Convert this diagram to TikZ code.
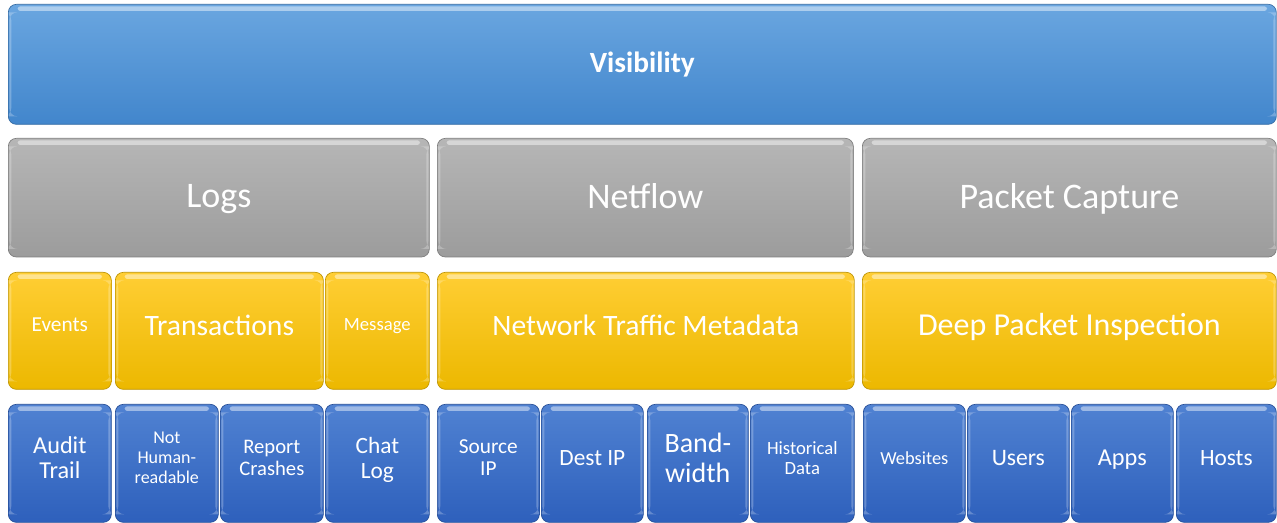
\documentclass[tikz,border=0pt]{standalone}
\usepackage{fontspec}
\setmainfont{Carlito}
\usepackage{tikz}
\usetikzlibrary{calc}
\usepackage{xcolor}
\definecolor{skytop}{RGB}{106,166,224}
\definecolor{skybot}{RGB}{66,134,204}
\definecolor{greytop}{RGB}{182,182,182}
\definecolor{greybot}{RGB}{156,156,156}
\definecolor{goldtop}{RGB}{255,206,52}
\definecolor{goldbot}{RGB}{236,184,0}
\definecolor{navytop}{RGB}{80,130,210}
\definecolor{navybot}{RGB}{46,96,188}

\tikzset{
  tile/.style={rounded corners=6pt, draw=#1bot!80!black, line width=0.5pt,
    top color=#1top, bottom color=#1bot, text=white, align=center,
    inner sep=2pt, anchor=north west,
    path picture={
      \fill[white, opacity=0.45, rounded corners=2pt]
        ($(path picture bounding box.north west)+(7pt,-1.5pt)$) rectangle
        ($(path picture bounding box.north east)+(-7pt,-5pt)$);
      \fill[white, opacity=0.25]
        ($(path picture bounding box.north west)+(0.8pt,-6pt)$) rectangle
        ($(path picture bounding box.south west)+(2.2pt,6pt)$);
      \fill[white, opacity=0.25]
        ($(path picture bounding box.north east)+(-0.8pt,-6pt)$) rectangle
        ($(path picture bounding box.south east)+(-2.2pt,6pt)$);
    }},
  visbox/.style={tile=sky, minimum width=951pt, minimum height=90pt,
    font=\bfseries\fontsize{22}{24}\selectfont},
  srcbox/.style={tile=grey, minimum height=89pt, text depth=2pt,
    font=\fontsize{27}{30}\selectfont},
  kindbox/.style={tile=gold, minimum height=87.75pt, text depth=9pt},
  itembox/.style={tile=navy, minimum height=88.5pt, text depth=8pt},
}

\begin{document}
\begin{tikzpicture}[x=0.75pt, y=-0.75pt]
  \useasboundingbox (0,0) rectangle (1277,523);

  % top band
  \node[visbox] (visibility) at (8,4) {Visibility};

  % data sources
  \node[srcbox, minimum width=315.75pt] (logs) at (8,138) {Logs};
  \node[srcbox, minimum width=312pt] (netflow) at (437,138) {Netflow};
  \node[srcbox, minimum width=310.5pt] (capture) at (862,138) {Packet Capture};

  % what each source holds
  \node[kindbox, minimum width=77.25pt, font=\fontsize{16}{18}\selectfont] (events) at (8,272) {Events};
  \node[kindbox, minimum width=156pt, font=\fontsize{22.2}{24}\selectfont] (transactions) at (115,272) {Transactions};
  \node[kindbox, minimum width=78pt, font=\fontsize{14}{16}\selectfont] (message) at (325,272) {Message};
  \node[kindbox, minimum width=312.75pt, font=\fontsize{22.2}{24}\selectfont] (metadata) at (437,272) {Network Traffic Metadata};
  \node[kindbox, minimum width=310.5pt, font=\fontsize{24}{26}\selectfont] (inspection) at (862,272) {Deep Packet Inspection};

  % details
  \node[itembox, minimum width=77.25pt, font=\fontsize{18.2}{18.8}\selectfont] (audit) at (8,404) {Audit\\Trail};
  \node[itembox, minimum width=77.25pt, font=\fontsize{13.5}{15}\selectfont] (binary) at (115,404) {Not\\Human-\\readable};
  \node[itembox, minimum width=77.25pt, font=\fontsize{15.5}{16.5}\selectfont] (crashes) at (220,404) {Report\\Crashes};
  \node[itembox, minimum width=78pt, font=\fontsize{17.5}{18.8}\selectfont] (chat) at (325,404) {Chat\\Log};
  \node[itembox, minimum width=76.5pt, font=\fontsize{16}{16.5}\selectfont] (srcip) at (437,404) {Source\\IP};
  \node[itembox, minimum width=76.5pt, font=\fontsize{17.5}{19}\selectfont] (dstip) at (541,404) {Dest IP};
  \node[itembox, minimum width=75.75pt, font=\fontsize{21}{22.5}\selectfont] (bandwidth) at (647,404) {Band-\\width};
  \node[itembox, minimum width=78pt, font=\fontsize{14}{15}\selectfont] (history) at (750,404) {Historical\\Data};
  \node[itembox, minimum width=76.5pt, font=\fontsize{13.8}{15}\selectfont] (websites) at (863,404) {Websites};
  \node[itembox, minimum width=76.5pt, font=\fontsize{17.7}{19}\selectfont] (users) at (967,404) {Users};
  \node[itembox, minimum width=76.5pt, font=\fontsize{18.2}{19}\selectfont] (apps) at (1071,404) {Apps};
  \node[itembox, minimum width=75pt, font=\fontsize{17.5}{19}\selectfont] (hosts) at (1176,404) {Hosts};
\end{tikzpicture}
\end{document}
